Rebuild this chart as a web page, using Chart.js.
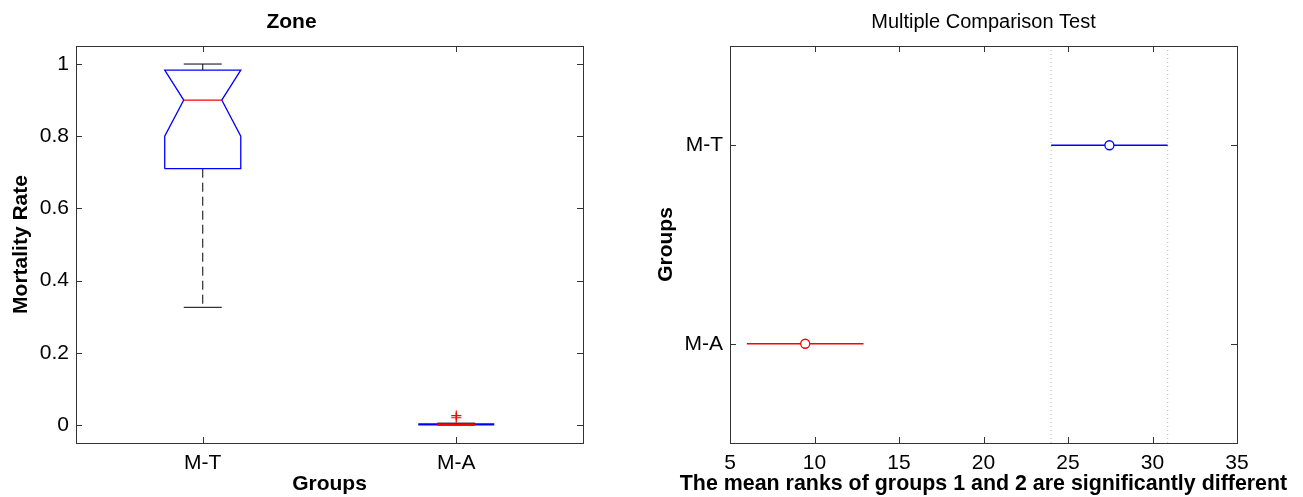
<!DOCTYPE html>
<html>
<head>
<meta charset="utf-8">
<script src="https://cdn.jsdelivr.net/npm/chart.js@4.4.1/dist/chart.umd.min.js"></script>
<style>
  html, body { margin: 0; padding: 0; background: #fff; }
  #wrap { position: relative; width: 1303px; height: 497px; overflow: hidden; }
  canvas { position: absolute; top: 0; }
</style>
</head>
<body>
<div id="wrap">
  <canvas id="boxChart" width="650" height="497" style="left:0"></canvas>
  <canvas id="mcChart" width="707" height="497" style="left:630px"></canvas>
</div>
<script>
const groups = ['M-T', 'M-A'];
const groupPos = [1, 2];

// box plot stats
const q1 = [0.71, 0];
const median = [0.90, 0.002];
const q3 = [0.983, 0.003];
const notchLo = [0.80, 0];
const notchHi = [0.983, 0.003];
const whiskerLo = [0.326, 0];
const whiskerHi = [1.0, 0.005];
const outliers = [[], [0.02, 0.026]];
const mortalityTicks = [0, 0.2, 0.4, 0.6, 0.8, 1];

// multiple comparison: mean ranks and their intervals
const meanRank = [27.45, 9.45];
const rankLo = [24.0, 6.0];
const rankHi = [30.9, 12.9];
const rankTicks = [5, 10, 15, 20, 25, 30, 35];

const FONT = 'Liberation Sans, Arial, Helvetica, sans-serif';
const tickFont = { family: FONT, size: 21 };
const boldFont = { family: FONT, size: 21, weight: 'bold' };
const noGrid = { display: false, drawTicks: false };
const AXIS = '#333';
const BLUE = '#0000ff';
const RED = '#ff0000';

// MATLAB-like box: full frame with ticks pointing inwards
const frameTicks = {
  id: 'frameTicks',
  afterDraw(chart) {
    const { ctx, chartArea: a, scales } = chart;
    const len = 6;
    ctx.save();
    ctx.strokeStyle = AXIS;
    ctx.lineWidth = 1;
    ctx.strokeRect(Math.round(a.left) + 0.5, Math.round(a.top) + 0.5,
      Math.round(a.right - a.left), Math.round(a.bottom - a.top));
    ctx.beginPath();
    scales.x.ticks.forEach((t, i) => {
      const px = Math.round(scales.x.getPixelForTick(i)) + 0.5;
      ctx.moveTo(px, a.bottom); ctx.lineTo(px, a.bottom - len);
      ctx.moveTo(px, a.top); ctx.lineTo(px, a.top + len);
    });
    scales.y.ticks.forEach((t, i) => {
      const py = Math.round(scales.y.getPixelForTick(i)) + 0.5;
      ctx.moveTo(a.left, py); ctx.lineTo(a.left + len, py);
      ctx.moveTo(a.right, py); ctx.lineTo(a.right - len, py);
    });
    ctx.stroke();
    ctx.restore();
  }
};

function line(points, color, width, dash) {
  return {
    type: 'line', data: points, borderColor: color, borderWidth: width,
    borderDash: dash || [], pointRadius: 0, fill: false, tension: 0
  };
}

// ---- left: notched box plot ----
const boxW = 0.15, notchW = 0.075;
const boxSets = [];
groupPos.forEach((c, i) => {
  const out = outliers[i].map(v => ({ x: c, y: v }));
  if (out.length) {
    boxSets.push({
      type: 'scatter', data: out, pointStyle: 'cross', pointRadius: 5,
      borderColor: RED, borderWidth: 1.2
    });
  }
  boxSets.push(line([{ x: c - notchW, y: median[i] }, { x: c + notchW, y: median[i] }], RED, 1.3));
  boxSets.push(line([
    { x: c - boxW, y: q1[i] }, { x: c + boxW, y: q1[i] },
    { x: c + boxW, y: notchLo[i] }, { x: c + notchW, y: median[i] },
    { x: c + boxW, y: notchHi[i] }, { x: c + boxW, y: q3[i] },
    { x: c - boxW, y: q3[i] }, { x: c - boxW, y: notchHi[i] },
    { x: c - notchW, y: median[i] }, { x: c - boxW, y: notchLo[i] },
    { x: c - boxW, y: q1[i] }
  ], BLUE, 1.3));
  boxSets.push(line([{ x: c - notchW, y: whiskerHi[i] }, { x: c + notchW, y: whiskerHi[i] }], '#000', 1));
  boxSets.push(line([{ x: c - notchW, y: whiskerLo[i] }, { x: c + notchW, y: whiskerLo[i] }], '#000', 1));
  boxSets.push(line([{ x: c, y: q3[i] }, { x: c, y: whiskerHi[i] }], '#000', 1, [9, 5]));
  boxSets.push(line([{ x: c, y: q1[i] }, { x: c, y: whiskerLo[i] }], '#000', 1, [9, 5]));
});

new Chart(document.getElementById('boxChart'), {
  type: 'line',
  data: { datasets: boxSets },
  plugins: [frameTicks],
  options: {
    responsive: false, animation: false, devicePixelRatio: 1,
    layout: { padding: { left: 0, right: 67, top: 0, bottom: 0 } },
    plugins: {
      legend: { display: false }, tooltip: { enabled: false },
      title: { display: true, text: 'Zone', font: boldFont, color: '#000', padding: { top: 10, bottom: 10.8 } }
    },
    scales: {
      x: {
        type: 'linear', min: 0.5, max: 2.5,
        afterBuildTicks: s => { s.ticks = groupPos.map(v => ({ value: v })); },
        afterFit: s => { s.height = 54; },
        grid: noGrid, border: { display: false },
        ticks: { callback: v => groups[groupPos.indexOf(v)], font: tickFont, color: '#000', padding: 8, maxRotation: 0, autoSkip: false },
        title: { display: true, text: 'Groups', font: boldFont, color: '#000', padding: { top: 0, bottom: 0 } }
      },
      y: {
        type: 'linear', min: -0.05, max: 1.05,
        afterBuildTicks: s => { s.ticks = mortalityTicks.map(v => ({ value: v })); },
        afterFit: s => { s.width = 76; },
        grid: noGrid, border: { display: false },
        ticks: { callback: v => String(v), font: tickFont, color: '#000', padding: 7 },
        title: { display: true, text: 'Mortality Rate', font: boldFont, color: '#000', padding: { top: 9, bottom: 0 } }
      }
    }
  }
});

// ---- right: multiple comparison ----
const yMin = 0.5, yMax = 2.5;
const mcColors = [BLUE, RED];
const mcSets = [];
groupPos.forEach((p, i) => {
  mcSets.push({
    type: 'scatter', data: [{ x: meanRank[i], y: p }], pointStyle: 'circle', pointRadius: 4.5,
    borderColor: mcColors[i], backgroundColor: '#fff', borderWidth: 1.3
  });
  mcSets.push(line([{ x: rankLo[i], y: p }, { x: rankHi[i], y: p }], mcColors[i], 1.5));
});
// dotted limits of the highlighted group (M-T)
mcSets.push(line([{ x: rankLo[0], y: yMin }, { x: rankLo[0], y: yMax }], '#bbb', 1, [1, 3]));
mcSets.push(line([{ x: rankHi[0], y: yMin }, { x: rankHi[0], y: yMax }], '#bbb', 1, [1, 3]));

new Chart(document.getElementById('mcChart'), {
  type: 'line',
  data: { datasets: mcSets },
  plugins: [frameTicks],
  options: {
    responsive: false, animation: false, devicePixelRatio: 1,
    layout: { padding: 0 },
    plugins: {
      legend: { display: false }, tooltip: { enabled: false },
      title: { display: true, text: 'Multiple Comparison Test', font: { family: FONT, size: 20, weight: 'normal' }, color: '#000', padding: { top: 10.5, bottom: 11.5 } },
      // the x label is wider than the axes, so it goes in a full-width block
      subtitle: { display: true, position: 'bottom', text: 'The mean ranks of groups 1 and 2 are significantly different', font: { family: FONT, size: 21.4, weight: 'bold' }, color: '#000', padding: { top: 0, bottom: 0 } }
    },
    scales: {
      x: {
        type: 'linear', min: 5, max: 35,
        afterBuildTicks: s => { s.ticks = rankTicks.map(v => ({ value: v })); },
        afterFit: s => { s.height = 28.3; },
        grid: noGrid, border: { display: false },
        ticks: { font: tickFont, color: '#000', padding: 8, maxRotation: 0, autoSkip: false }
      },
      y: {
        type: 'linear', min: yMin, max: yMax, reverse: true,
        afterBuildTicks: s => { s.ticks = groupPos.map(v => ({ value: v })); },
        afterFit: s => { s.width = 100; },
        grid: noGrid, border: { display: false },
        ticks: { callback: v => groups[groupPos.indexOf(v)], font: tickFont, color: '#000', padding: 7 },
        title: { display: true, text: 'Groups', font: boldFont, color: '#000', padding: { top: 24, bottom: 0 } }
      },
      // empty right margin, keeps the plot box centred under the full-width label
      yRight: {
        type: 'linear', position: 'right', display: true,
        afterFit: s => { s.width = 100; },
        grid: noGrid, border: { display: false }, ticks: { display: false }
      }
    }
  }
});
</script>
</body>
</html>
